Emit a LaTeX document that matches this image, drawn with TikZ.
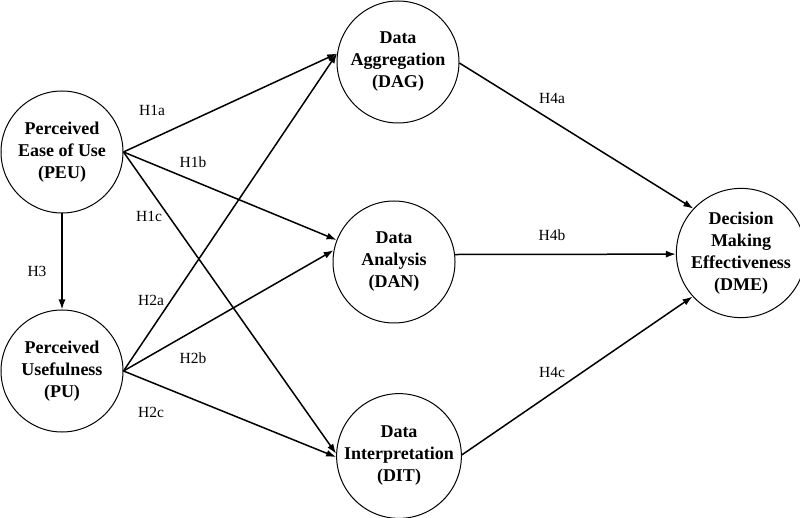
\documentclass[tikz,border=0pt]{standalone}
\usepackage{fontspec}
\setmainfont{Liberation Serif}
\usetikzlibrary{arrows.meta}
\begin{document}
\begin{tikzpicture}[x=1pt,y=-1pt,
  construct/.style={circle,draw,line width=1pt,minimum size=122pt,inner sep=0pt,
    align=center,font=\fontsize{18}{22}\selectfont\bfseries},
  path/.style={line width=1.5pt,-{Latex[length=10pt,width=7pt]}},
  hyp/.style={font=\fontsize{15.5}{18}\selectfont,inner sep=0pt}]
\useasboundingbox (0,0) rectangle (800,518);
\node[construct] (PEU) at (62,152) {Perceived\\Ease of Use\\(PEU)};
\node[construct] (PU) at (62,371) {Perceived\\Usefulness\\(PU)};
\node[construct] (DAG) at (398,62) {Data\\Aggregation\\(DAG)};
\node[construct] (DAN) at (394,262) {Data\\Analysis\\(DAN)};
\node[construct] (DIT) at (399,456) {Data\\Interpretation\\(DIT)};
\node[construct] (DME) at (741,253) {Decision\\Making\\Effectiveness\\(DME)};
\draw[path] (PEU.east) -- (DAG.172);
\draw[path] (PEU.east) -- (DAN.159);
\draw[path] (PEU.east) -- (DIT.178);
\draw[path] (PU.east) -- (DAG.172);
\draw[path] (PU.east) -- (DAN.169);
\draw[path] (PU.east) -- (DIT.181);
\draw[path] (PEU.south) -- (PU.north);
\draw[path] (DAG.-1) -- (DME.137);
\draw[path] (DAN.7) -- (DME.181);
\draw[path] (DIT.1) -- (DME.222);
\node[hyp] (h1a) at (152,110) {H1a};
\node[hyp] (h1b) at (193,162) {H1b};
\node[hyp] (h1c) at (149,216) {H1c};
\node[hyp] (h3) at (37,271) {H3};
\node[hyp] (h2a) at (151,300) {H2a};
\node[hyp] (h2b) at (193,358) {H2b};
\node[hyp] (h2c) at (151,412) {H2c};
\node[hyp] (h4a) at (552,98) {H4a};
\node[hyp] (h4b) at (552,235) {H4b};
\node[hyp] (h4c) at (552,372) {H4c};
\end{tikzpicture}
\end{document}
